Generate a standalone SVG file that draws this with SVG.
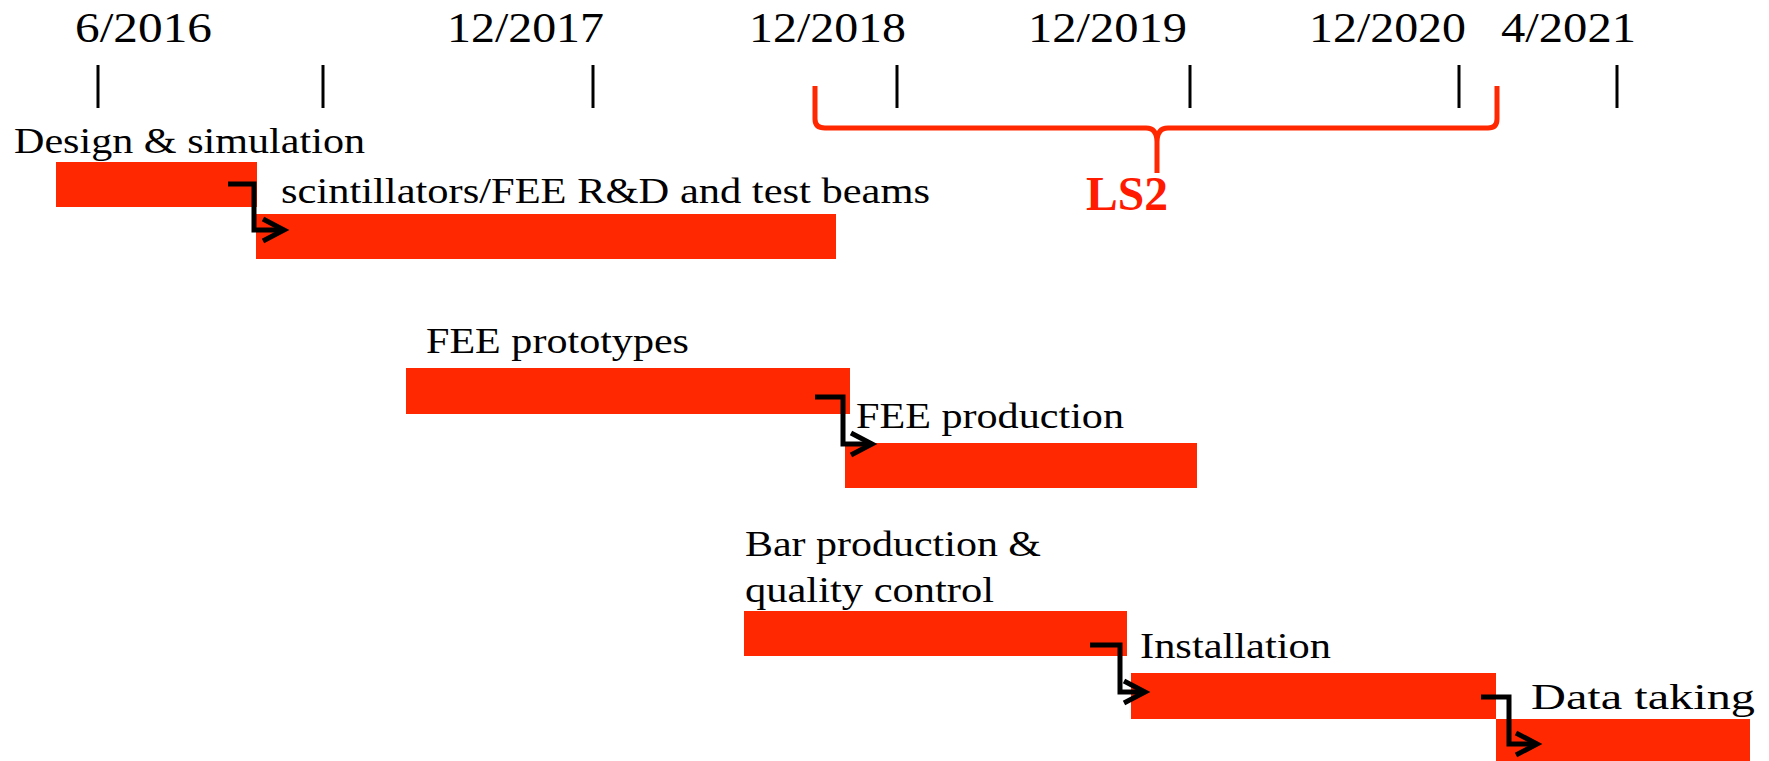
<svg xmlns="http://www.w3.org/2000/svg" width="1769" height="761" viewBox="0 0 1769 761">
<style>
.bar{fill:#ff2800}
.tick{stroke:#000;stroke-width:3}
.date{font-family:"Liberation Serif",serif;font-size:43px;fill:#000}
.lbl{font-family:"Liberation Serif",serif;font-size:35px;fill:#000}
.conn{fill:none;stroke:#000;stroke-width:5;marker-end:url(#chev)}
</style>
<defs>
<marker id="chev" markerUnits="userSpaceOnUse" markerWidth="30" markerHeight="30" viewBox="0 0 30 30" refX="24" refY="15" orient="auto">
<path d="M3,4 L24,15 L3,26" fill="none" stroke="#000" stroke-width="5"/>
</marker>
</defs>
<rect width="1769" height="761" fill="#fff"/>
<g id="timeline">
<text class="date" x="75" y="42" textLength="137" lengthAdjust="spacingAndGlyphs">6/2016</text>
<text class="date" x="447" y="42" textLength="157" lengthAdjust="spacingAndGlyphs">12/2017</text>
<text class="date" x="749" y="42" textLength="157" lengthAdjust="spacingAndGlyphs">12/2018</text>
<text class="date" x="1028" y="42" textLength="159" lengthAdjust="spacingAndGlyphs">12/2019</text>
<text class="date" x="1309" y="42" textLength="157" lengthAdjust="spacingAndGlyphs">12/2020</text>
<text class="date" x="1501" y="42" textLength="135" lengthAdjust="spacingAndGlyphs">4/2021</text>
<line class="tick" x1="98" y1="65" x2="98" y2="108"/>
<line class="tick" x1="323" y1="65" x2="323" y2="108"/>
<line class="tick" x1="593" y1="65" x2="593" y2="108"/>
<line class="tick" x1="897" y1="65" x2="897" y2="108"/>
<line class="tick" x1="1190" y1="65" x2="1190" y2="108"/>
<line class="tick" x1="1459" y1="65" x2="1459" y2="108"/>
<line class="tick" x1="1617" y1="65" x2="1617" y2="108"/>
</g>
<g id="ls2">
<path d="M815,86 L815,119 Q815,128 825,128 L1146,128 Q1157,128 1157,142 L1157,173 M1157,142 Q1157,128 1168,128 L1488,128 Q1497,128 1497,119 L1497,86" fill="none" stroke="#ff2800" stroke-width="5"/>
<text x="1086" y="210" font-family="'Liberation Serif',serif" font-size="48" font-weight="bold" fill="#ff1a00" textLength="82" lengthAdjust="spacingAndGlyphs">LS2</text>
</g>
<g id="design">
<rect class="bar" x="56" y="162" width="201" height="45"/>
<text class="lbl" x="14" y="153" textLength="351" lengthAdjust="spacingAndGlyphs">Design &amp; simulation</text>
</g>
<g id="scint">
<rect class="bar" x="256" y="214" width="580" height="45"/>
<text class="lbl" x="281" y="203" textLength="649" lengthAdjust="spacingAndGlyphs">scintillators/FEE R&amp;D and test beams</text>
</g>
<g id="feeproto">
<rect class="bar" x="406" y="368" width="444" height="46"/>
<text class="lbl" x="426" y="353" textLength="263" lengthAdjust="spacingAndGlyphs">FEE prototypes</text>
</g>
<g id="feeprod">
<rect class="bar" x="845" y="443" width="352" height="45"/>
<text class="lbl" x="856" y="428" textLength="268" lengthAdjust="spacingAndGlyphs">FEE production</text>
</g>
<g id="barprod">
<rect class="bar" x="744" y="611" width="383" height="45"/>
<text class="lbl" x="745" y="556" textLength="296" lengthAdjust="spacingAndGlyphs">Bar production &amp;</text>
<text class="lbl" x="745" y="602" textLength="249" lengthAdjust="spacingAndGlyphs">quality control</text>
</g>
<g id="install">
<rect class="bar" x="1131" y="673" width="365" height="46"/>
<text class="lbl" x="1140" y="658" textLength="191" lengthAdjust="spacingAndGlyphs">Installation</text>
</g>
<g id="datataking">
<rect class="bar" x="1496" y="719" width="254" height="42"/>
<text class="lbl" x="1531" y="709" font-size="38" textLength="224" lengthAdjust="spacingAndGlyphs">Data taking</text>
</g>
<g id="connectors">
<path class="conn" d="M228,184 H254 V230 H284"/>
<path class="conn" d="M815,397 H843 V444 H872"/>
<path class="conn" d="M1090,645 H1120 V692 H1145"/>
<path class="conn" d="M1481,697 H1509 V744 H1537"/>
</g>
</svg>
